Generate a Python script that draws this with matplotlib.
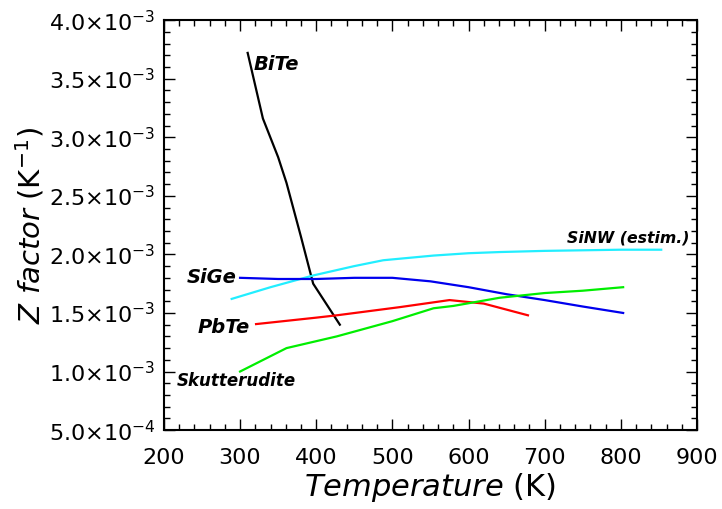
import numpy as np
import matplotlib
matplotlib.use("Agg")
import matplotlib.pyplot as plt
from matplotlib.ticker import MultipleLocator, FuncFormatter

# Z factor (1e-3 / K) of thermoelectric materials vs temperature (K)
bite_T = [310, 330, 350, 361, 380, 396, 400, 431]
bite_Z = [3.72, 3.16, 2.83, 2.61, 2.15, 1.75, 1.71, 1.40]

sige_T = [300, 350, 400, 450, 500, 550, 600, 650, 700, 750, 803]
sige_Z = [1.80, 1.79, 1.79, 1.80, 1.80, 1.77, 1.72, 1.66, 1.61, 1.555, 1.50]

sinw_T = [289, 340, 396, 450, 488, 554, 600, 641, 700, 800, 853]
sinw_Z = [1.62, 1.72, 1.82, 1.90, 1.95, 1.99, 2.01, 2.02, 2.03, 2.04, 2.04]

pbte_T = [321, 400, 427, 510, 575, 620, 678]
pbte_Z = [1.405, 1.46, 1.48, 1.55, 1.61, 1.58, 1.48]

skut_T = [300, 361, 427, 500, 554, 580, 641, 700, 750, 803]
skut_Z = [1.00, 1.20, 1.30, 1.43, 1.54, 1.56, 1.63, 1.67, 1.69, 1.72]

yticks = [0.5, 1.0, 1.5, 2.0, 2.5, 3.0, 3.5, 4.0]


def sci_label(v, pos):
    val = v * 1e-3
    exp = int(np.floor(np.log10(val) + 1e-9))
    mant = val / 10 ** exp
    return r"%.1f$\times$10$^{%d}$" % (mant, exp)


fig = plt.figure(figsize=(7.22, 5.09), dpi=100)
ax = fig.add_axes([0.227, 0.155, 0.7384, 0.8055])

lw = 1.6
ax.plot(bite_T, bite_Z, color="black", lw=lw)
ax.plot(sinw_T, sinw_Z, color="#22eeff", lw=lw)
ax.plot(sige_T, sige_Z, color="#0000ee", lw=lw)
ax.plot(pbte_T, pbte_Z, color="#ff0000", lw=lw)
ax.plot(skut_T, skut_Z, color="#00ee00", lw=lw)

lab = dict(fontweight="bold", fontstyle="italic", va="center")
ax.text(318, 3.62, "BiTe", fontsize=14, ha="left", **lab)
ax.text(296, 1.80, "SiGe", fontsize=14, ha="right", **lab)
ax.text(313, 1.38, "PbTe", fontsize=14, ha="right", **lab)
ax.text(217, 0.92, "Skutterudite", fontsize=12, ha="left", **lab)
ax.text(890, 2.14, "SiNW (estim.)", fontsize=11.3, ha="right", **lab)

ax.set_xlim(200, 900)
ax.set_ylim(0.5, 4.0)
ax.set_yticks(yticks)
ax.xaxis.set_major_locator(MultipleLocator(100))
ax.xaxis.set_minor_locator(MultipleLocator(20))
ax.yaxis.set_minor_locator(MultipleLocator(0.1))
ax.yaxis.set_major_formatter(FuncFormatter(sci_label))

ax.tick_params(which="both", direction="in", top=True, right=True,
               labelsize=16, width=1)
ax.tick_params(which="major", length=8)
ax.tick_params(which="minor", length=4)
ax.tick_params(axis="x", which="major", pad=13)
ax.tick_params(axis="y", which="major", pad=6)
for s in ax.spines.values():
    s.set_linewidth(1.5)

ax.set_xlabel(r"$\it{Temperature}$ (K)", fontsize=22, labelpad=2)
ax.set_ylabel(r"$\it{Z\ factor}$ (K$^{-1}$)", fontsize=21, labelpad=2)

fig.savefig("out.png", dpi=100)
